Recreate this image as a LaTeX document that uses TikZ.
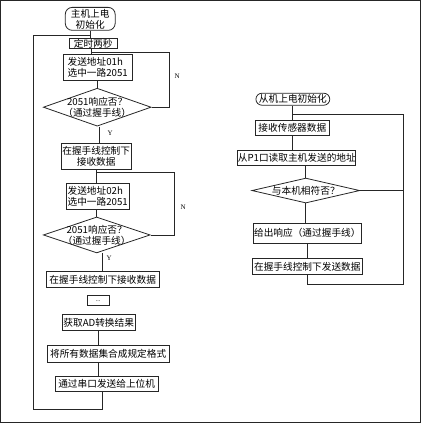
\documentclass[tikz,border=0pt]{standalone}
\usepackage{fontspec}
\newfontfamily\cjk{Noto Sans CJK SC}
\newfontfamily\lat{Liberation Serif}
\usetikzlibrary{shapes.geometric}
\begin{document}
\begin{tikzpicture}[x=1pt,y=-1pt,
  every path/.style={line width=0.8pt, draw=black!85},
  txt/.style={font=\cjk\fontsize{9.7}{11}\selectfont},
  box/.style={draw, txt, inner sep=0pt, align=center},
  rbox/.style={box, rounded corners=6pt},
  dia/.style={draw, diamond, inner sep=0pt},
  dlbl/.style={txt, align=center, inner sep=0pt},
  yn/.style={font=\lat\fontsize{7}{8}\selectfont, inner sep=0pt}]
\useasboundingbox (0,0) rectangle (421,423);
% ---------- left chart ----------
\node[rbox, rounded corners=7pt, minimum width=50pt, minimum height=23pt] (start) at (90,18.5) {主机上电\\初始化};
\node[box, minimum width=48pt, minimum height=10.5pt] (t2s) at (93,43) {定时两秒};
\node[box, align=left, minimum width=69pt, minimum height=26pt] (s1) at (97.5,67) {发送地址01h\\选中一路2051};
\node[dia, minimum width=108pt, minimum height=38pt, label={[dlbl]center:{2051响应否？\\（通过握手线）}}] (d1) at (97,107) {};
\node[yn] (n1) at (177,76) {N};
\node[yn] (y1) at (110,133) {Y};
\node[box, minimum width=70pt, minimum height=26pt] (r1) at (96,156) {在握手线控制下\\接收数据};
\node[box, align=left, minimum width=63pt, minimum height=26pt] (s2) at (97.5,196) {发送地址02h\\选中一路2051};
\node[dia, minimum width=107pt, minimum height=36pt, label={[dlbl]center:{2051响应否？\\（通过握手线）}}] (d2) at (96.5,235) {};
\node[yn] (n2) at (183,207) {N};
\node[yn] (y2) at (109,258) {Y};
\node[box, minimum width=113pt, minimum height=16pt] (r2) at (102.5,280) {在握手线控制下接收数据};
\node[box, font=\lat\fontsize{6}{6}\selectfont, minimum width=22pt, minimum height=10pt] (dots) at (98,301) {...};
\node[box, minimum width=73pt, minimum height=16pt] (ad) at (98.5,323) {获取AD转换结果};
\node[box, minimum width=122pt, minimum height=17pt] (fmt) at (108,354.5) {将所有数据集合成规定格式};
\node[box, minimum width=103pt, minimum height=15pt] (ser) at (106.5,384.5) {通过串口发送给上位机};
% connectors
\coordinate (lb) at (33,410);
\coordinate (lt) at (33,35);
\coordinate (n1a) at (169,52);
\coordinate (n1b) at (91,52);
\coordinate (n2a) at (174,172);
\draw (start.south) -- (start.south |- t2s.north);
\draw ([xshift=-4.5pt]ser.south) |- (lb) -- (lt) -- (lt -| start.south);
\draw (n1b |- t2s.south) -- (n1b |- s1.north);
\draw (d1.east) -| (n1a) -- (n1b);
\draw (d1.north |- s1.south) -- (d1.north);
\draw ([xshift=2pt]d1.south) -- ([xshift=2pt]d1.south |- r1.north);
\draw (r1.south) -- (r1.south |- s2.north);
\draw (d2.east) -| (n2a) -- (n2a -| r1.south);
\draw (d2.north |- s2.south) -- (d2.north);
\draw ([xshift=5.5pt]d2.south) -- ([xshift=5.5pt]d2.south |- r2.north);
\draw (ad.south) -- (ad.south |- fmt.north);
\draw (ad.south |- fmt.south) -- (ad.south |- ser.north);
% ---------- right chart ----------
\node[rbox, minimum width=74pt, minimum height=12pt] (rstart) at (293,99) {从机上电初始化};
\node[box, minimum width=75pt, minimum height=15pt] (rcv) at (292.5,127.5) {接收传感器数据};
\node[box, minimum width=116pt, minimum height=15pt] (p1) at (297,157.5) {从P1口读取主机发送的地址};
\node[dia, minimum width=108pt, minimum height=25pt, label={[dlbl]center:{与本机相符否？}}] (d3) at (306,190.5) {};
\node[box, minimum width=109pt, minimum height=20pt] (resp) at (307.5,233) {给出响应（通过握手线）};
\node[box, minimum width=111pt, minimum height=17pt] (send) at (307.5,266.5) {在握手线控制下发送数据};
\coordinate (rtr) at (404,114);
\coordinate (rbr) at (404,285);
\draw (rstart.south) -- (rstart.south |- rcv.north);
\draw (rstart.south |- rtr) -- (rtr) -- (rbr) -| (send.south);
\draw (d3.east) -- (d3.east -| rtr);
\draw (rcv.south) -- (rcv.south |- p1.north);
\draw (d3.north |- p1.south) -- (d3.north);
\draw (d3.south) -- (d3.south |- resp.north);
\draw (resp.south) -- (resp.south |- send.north);
\end{tikzpicture}
\end{document}
